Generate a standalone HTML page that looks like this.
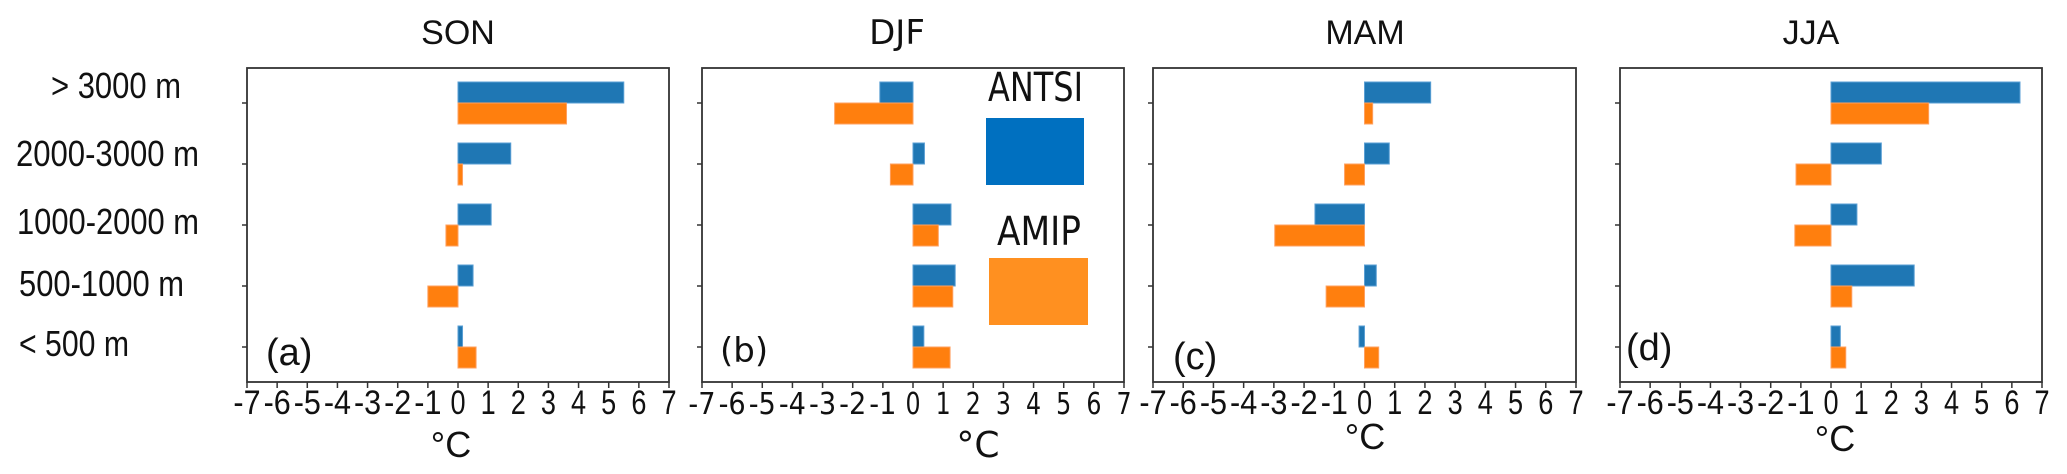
<!DOCTYPE html>
<html><head><meta charset="utf-8"><style>
html,body{margin:0;padding:0;background:#fff;}
svg{display:block;}
.nar{font-family:"Liberation Sans Narrow","Liberation Sans",sans-serif;}
.dv{font-family:"DejaVu Sans","Liberation Sans",sans-serif;}
</style></head><body>
<svg id="chart" width="2067" height="474" viewBox="0 0 2067 474" xmlns="http://www.w3.org/2000/svg"></svg>
<script>
const categories = ["> 3000 m","2000-3000 m","1000-2000 m","500-1000 m","< 500 m"];
const seasons = ["SON","DJF","MAM","JJA"];
const panelLetters = ["(a)","(b)","(c)","(d)"];
const antsiSON = [5.5, 1.75, 1.1, 0.5, 0.15];
const amipSON = [3.6, 0.15, -0.4, -1.0, 0.6];
const antsiDJF = [-1.1, 0.38, 1.26, 1.4, 0.36];
const amipDJF = [-2.6, -0.75, 0.84, 1.32, 1.23];
const antsiMAM = [2.19, 0.82, -1.64, 0.39, -0.18];
const amipMAM = [0.27, -0.66, -2.97, -1.27, 0.47];
const antsiJJA = [6.27, 1.67, 0.86, 2.76, 0.31];
const amipJJA = [3.24, -1.16, -1.2, 0.69, 0.49];
const xTicks = [-7,-6,-5,-4,-3,-2,-1,0,1,2,3,4,5,6,7];

const NS="http://www.w3.org/2000/svg";
const svg=document.getElementById('chart');
function mk(tag,attrs,parent){const e=document.createElementNS(NS,tag);for(const k in attrs)e.setAttribute(k,attrs[k]);(parent||svg).appendChild(e);return e;}

const panels=[
 {l:247,r:669,cls:"nar",fs:34,title:458,unit:451,unitY:457,lab:[266,365],blue:antsiSON,orange:amipSON},
 {l:702,r:1124,cls:"dv",fs:30,title:897,unit:978,unitY:457,lab:[720,362],blue:antsiDJF,orange:amipDJF},
 {l:1153,r:1576,cls:"nar",fs:34,title:1365,unit:1365,unitY:449,lab:[1173,369],blue:antsiMAM,orange:amipMAM},
 {l:1620,r:2042,cls:"nar",fs:34,title:1811,unit:1835,unitY:451,lab:[1626,360],blue:antsiJJA,orange:amipJJA}
];
const plotTop=68,plotBottom=382,bh=21;
function yC(i){return 103+i*61;}

panels.forEach((p,pi)=>{
  const g=mk('g',{});
  
  
  const xs=v=>p.l+(v+7)/14*(p.r-p.l);
  const t=mk('text',{x:p.title,y:44,'text-anchor':'middle','font-size':p.cls==='dv'?34:34,class:p.cls,fill:'#111'},g);
  t.textContent=seasons[pi];
  
  
  categories.forEach((c,i)=>{
    const b=p.blue[i],o=p.orange[i];
    const rb=mk('rect',{x:Math.min(xs(0),xs(b)),y:yC(i)-bh,width:Math.abs(xs(b)-xs(0)),height:bh,fill:'#1f77b4',stroke:'#5a9fd4','stroke-width':1},g);
    
    
    const ro=mk('rect',{x:Math.min(xs(0),xs(o)),y:yC(i),width:Math.abs(xs(o)-xs(0)),height:bh,fill:'#ff7f0e',stroke:'#ffa060','stroke-width':1},g);
    
    
    mk('line',{x1:p.l-5,x2:p.l,y1:yC(i),y2:yC(i),stroke:'#333','stroke-width':1.5},g);
  });
  const fr=mk('rect',{x:p.l,y:plotTop,width:p.r-p.l,height:plotBottom-plotTop,fill:'none',stroke:'#333','stroke-width':1.8},g);
  
  
  const step=(p.r-p.l)/14;
  xTicks.forEach(v=>{
    mk('line',{x1:xs(v),x2:xs(v),y1:plotBottom,y2:plotBottom+6,stroke:'#333','stroke-width':1.5},g);
    const w=v<0?step*0.9:step*0.5;
    const tl=mk('text',{x:xs(v)-w/2,y:414,'font-size':p.fs,class:p.cls,fill:'#111',textLength:w,lengthAdjust:'spacingAndGlyphs'},g);
    tl.textContent=String(v);
    
    
  });
  const u=mk('text',{x:p.unit,y:p.unitY,'text-anchor':'middle','font-size':36,class:p.cls,fill:'#111'},g);
  u.textContent='°C';
  
  
  const pl=mk('text',{x:p.lab[0],y:p.lab[1],'font-size':p.cls==='dv'?34:38,class:p.cls,fill:'#111'},g);
  pl.textContent=panelLetters[pi];
  
  
});

const yLabX=[51,16,17,19,19], yLabW=[130,183,182,165,110], yLabY=[98,166,234,296,356];
categories.forEach((c,i)=>{
  const t=mk('text',{x:yLabX[i],y:yLabY[i],'font-size':36,class:'nar',fill:'#111',textLength:yLabW[i],lengthAdjust:'spacingAndGlyphs'});
  t.textContent=c;
  
  
});

const l1=mk('text',{x:988,y:101,'font-size':40,class:'dv',fill:'#111',textLength:95,lengthAdjust:'spacingAndGlyphs'});
l1.textContent='ANTSI';


const s1=mk('rect',{x:986,y:118,width:98,height:67,fill:'#0070c0'});


const l2=mk('text',{x:997,y:245,'font-size':40,class:'dv',fill:'#111',textLength:84,lengthAdjust:'spacingAndGlyphs'});
l2.textContent='AMIP';


const s2=mk('rect',{x:989,y:258,width:99,height:67,fill:'#ff9020'});


</script>
</body></html>
